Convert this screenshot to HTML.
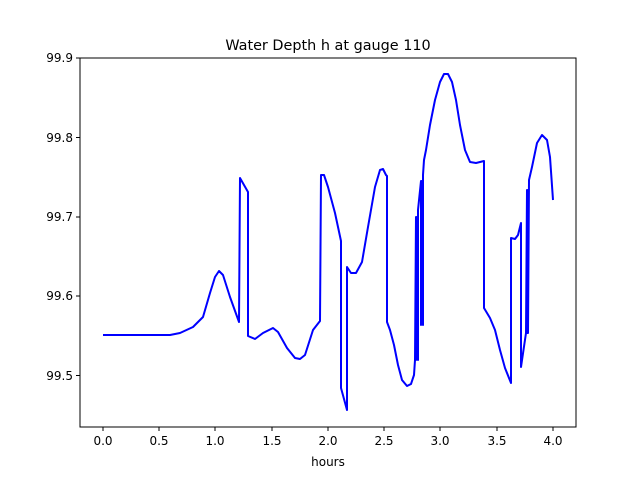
<!DOCTYPE html>
<html><head><style>body{margin:0;background:#fff}svg{display:block}text{font-family:"DejaVu Sans","Liberation Sans",sans-serif;fill:#000}</style></head><body>
<svg width="640" height="480" viewBox="0 0 640 480">
<rect width="640" height="480" fill="#fff"/>
<text x="328" y="50" font-size="14.4" text-anchor="middle">Water Depth h at gauge 110</text>
<polyline fill="none" stroke="#0000ff" stroke-width="2" stroke-linejoin="round" points="103,335 170,335 180,333 193,327 203,317 210,293 215,277 219,271 223,275 230,297 239,322 240,178 248,192 248,336 255,339 263,333 273,328 278,332 287,348 295,358 300,359 305,355 313,330 320,321 321,175 324,175 328,187 335,213 341,241 341,388 347,410 347,267 351,273 356,273 362,262 368,227 375,187 380,170 383,169 386,175 387,176 387,322 390,330 394,345 398,365 402,380 407,386 411,384 414,375 415,360 416,217 416,360 417,217 418,360 418,210 421,181 421,325 422,181 423,325 423,175 424,160 426,150 430,125 435,100 440,82 444,74 448,74 452,82 456,100 460,125 465,150 470,162 476,163 484,161 484,308 490,318 495,330 500,350 505,368 511,383 511,238 515,239 518,235 521,223 521,367 526,333 527,190 527,333 528,190 528,333 529,180 532,167 537,143 542,135 547,140 550,157 553,200"/>
<rect x="80" y="58" width="496" height="369" fill="none" stroke="#000" stroke-width="1"/>
<g stroke="#000" stroke-width="1">
<line x1="103" y1="427" x2="103" y2="431"/><line x1="159" y1="427" x2="159" y2="431"/><line x1="215" y1="427" x2="215" y2="431"/><line x1="272" y1="427" x2="272" y2="431"/><line x1="328" y1="427" x2="328" y2="431"/><line x1="384" y1="427" x2="384" y2="431"/><line x1="440" y1="427" x2="440" y2="431"/><line x1="497" y1="427" x2="497" y2="431"/><line x1="553" y1="427" x2="553" y2="431"/>
<line x1="76" y1="58" x2="80" y2="58"/><line x1="76" y1="137.5" x2="80" y2="137.5"/><line x1="76" y1="217" x2="80" y2="217"/><line x1="76" y1="296" x2="80" y2="296"/><line x1="76" y1="375.5" x2="80" y2="375.5"/>
</g>
<g font-size="12" text-anchor="middle">
<text x="103" y="445">0.0</text><text x="159" y="445">0.5</text><text x="215" y="445">1.0</text><text x="272" y="445">1.5</text><text x="328" y="445">2.0</text><text x="384" y="445">2.5</text><text x="440" y="445">3.0</text><text x="497" y="445">3.5</text><text x="553" y="445">4.0</text>
<text x="328" y="466">hours</text>
</g>
<g font-size="12" text-anchor="end">
<text x="73" y="62">99.9</text><text x="73" y="142">99.8</text><text x="73" y="221">99.7</text><text x="73" y="300">99.6</text><text x="73" y="380">99.5</text>
</g>
</svg>
</body></html>
